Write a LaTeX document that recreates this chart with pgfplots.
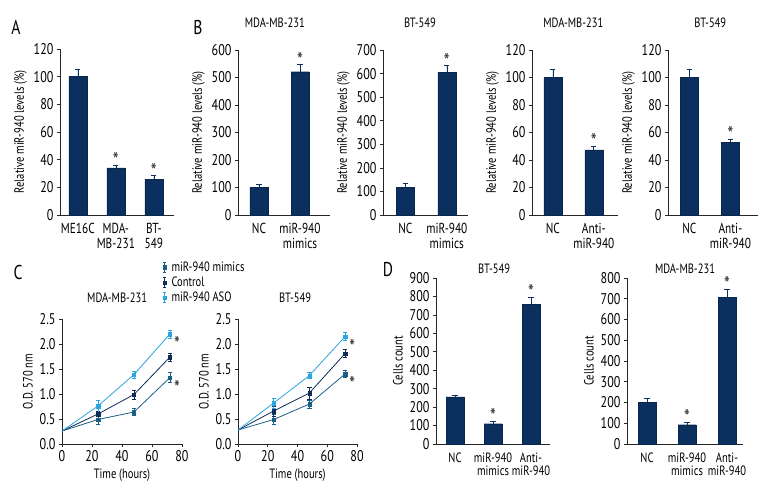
\documentclass[border=0pt]{standalone}
\usepackage{fontspec}
\setmainfont{PT Sans}[FakeStretch=0.78]
\usepackage{pgfplots}
\pgfplotsset{compat=1.18}
\definecolor{navy}{HTML}{0B2F5E}
\definecolor{ctrl}{HTML}{0F2B57}
\definecolor{mimc}{HTML}{1B5E86}
\definecolor{aso}{HTML}{2AA6DF}
\newcommand{\fs}[1]{\fontsize{#1bp}{#1bp}\selectfont}
\pgfplotsset{
  base/.style={scale only axis, anchor=south west, clip=false,
    axis lines*=left, axis line style={black!85, line width=0.6pt, -},
    tick align=outside, major tick length=3bp,
    tick style={black!85, line width=0.6pt},
    ticklabel style={font=\fs{15.5}},
    /pgf/number format/assume math mode=true,
    label style={font=\fs{13.5}},
    title style={font=\fs{13.5}}},
  barax/.style={base, ymin=0, xtick={0,1,2}, xtick style={draw=none},
    xticklabel style={align=center, font=\fs{14.5}, text depth=0pt, yshift=-2bp}},
  barplot/.style={ybar, bar shift=0pt, bar width=18bp, fill=navy, draw=navy!80!black, line width=0.4pt,
    error bars/.cd, y dir=plus, y explicit,
    error bar style={navy, line width=0.7pt},
    error mark options={rotate=90, mark size=2.6bp, navy, line width=0.7pt}, /pgfplots/.cd},
  star/.style={draw=none, mark=none, nodes near coords, point meta=explicit symbolic,
    every node near coord/.append style={font=\fs{21}, anchor=south, inner sep=0pt, yshift=-3bp, text=black!85}},
  lineax/.style={base, xmin=0, xmax=80, ymin=0, ymax=2.5, width=120bp, height=125bp,
    xtick={0,20,40,60,80}, ytick={0,0.5,1,1.5,2,2.5},
    yticklabel style={/pgf/number format/fixed, /pgf/number format/fixed zerofill, /pgf/number format/precision=1},
    xlabel={Time (hours)}, ylabel={O.D. 570 nm}},
  ln/.style={#1, line width=0.8pt, mark=none, forget plot},
  pts/.style={#1, only marks, mark=square*, mark size=1.7bp,
    error bars/.cd, y dir=both, y explicit,
    error bar style={#1, line width=0.7pt},
    error mark options={rotate=90, mark size=2.2bp, #1, line width=0.7pt}, /pgfplots/.cd},
  errleg/.style={legend image code/.code={
    \draw[#1, line width=0.7pt] (0.1cm,-0.17cm)--(0.1cm,0.17cm);
    \draw[#1, line width=0.7pt] (0.05cm,0.17cm)--(0.15cm,0.17cm) (0.05cm,-0.17cm)--(0.15cm,-0.17cm);
    \fill[#1] (0.045cm,-0.06cm) rectangle (0.155cm,0.06cm);}},
}
\begin{document}
\begin{tikzpicture}
\useasboundingbox (0,0) rectangle (768bp,-504bp);
% panel letters
\node[font=\fs{20}] at (16bp,-27bp) {A};
\node[font=\fs{20}] at (198bp,-27bp) {B};
\node[font=\fs{20}] at (18bp,-272bp) {C};
\node[font=\fs{20}] at (388bp,-270bp) {D};

% ---- A
\begin{axis}[barax, at={(60bp,-215bp)}, width=114bp, height=166bp,
  xmin=-0.47, xmax=2.53, ymax=120, ytick={0,20,...,120},
  xticklabels={ME16C, MDA-\\MB-231, BT-\\549},
  ylabel={Relative miR-940 levels (\%)}]
\addplot[barplot] coordinates {(0,100) +- (0,5.3) (1,34) +- (0,2) (2,26) +- (0,2.4)};
\addplot[star] coordinates {(1,36.2) [*] (2,28.6) [*]};
\end{axis}

% ---- B1
\begin{axis}[barax, at={(238bp,-215bp)}, width=92bp, height=165bp,
  xmin=-0.51, xmax=1.73, ymax=600, ytick={0,100,...,600},
  xticklabels={NC, miR-940\\mimics},
  ylabel={Relative miR-940 levels (\%)},
  title={MDA-MB-231}, title style={at={(0.4,1)}, anchor=center, yshift=21bp}]
\addplot[barplot] coordinates {(0,100) +- (0,13) (1,521) +- (0,27)};
\addplot[star] coordinates {(1,548) [*]};
\end{axis}

% ---- B2
\begin{axis}[barax, at={(383bp,-215bp)}, width=85bp, height=165bp,
  xmin=-0.54, xmax=1.51, ymax=700, ytick={0,100,...,700},
  xticklabels={NC, miR-940\\mimics},
  ylabel={Relative miR-940 levels (\%)},
  title={BT-549}, title style={at={(0.435,1)}, anchor=center, yshift=21bp}]
\addplot[barplot] coordinates {(0,116) +- (0,17) (1,605) +- (0,30)};
\addplot[star] coordinates {(1,635) [*]};
\end{axis}

% ---- B3
\begin{axis}[barax, at={(532bp,-215bp)}, width=86bp, height=165bp,
  xmin=-0.51, xmax=1.59, ymax=120, ytick={0,20,...,120},
  xticklabels={NC, Anti-\\miR-940},
  ylabel={Relative miR-940 levels (\%)},
  title={MDA-MB-231}, title style={at={(0.48,1)}, anchor=center, yshift=21bp}]
\addplot[barplot] coordinates {(0,100) +- (0,6) (1,47.3) +- (0,2.9)};
\addplot[star] coordinates {(1,50.5) [*]};
\end{axis}

% ---- B4
\begin{axis}[barax, at={(668bp,-215bp)}, width=90bp, height=165bp,
  xmin=-0.52, xmax=1.67, ymax=120, ytick={0,20,...,120},
  xticklabels={NC, Anti-\\miR-940},
  ylabel={Relative miR-940 levels (\%)},
  title={BT-549}, title style={at={(0.47,1)}, anchor=center, yshift=21bp}]
\addplot[barplot] coordinates {(0,100) +- (0,6) (1,52.6) +- (0,2.4)};
\addplot[star] coordinates {(1,55.3) [*]};
\end{axis}

% ---- C1
\begin{axis}[lineax, at={(62bp,-444bp)},
  title={MDA-MB-231}, title style={at={(0.46,1)}, anchor=center, yshift=15bp},
  legend style={at={(0.84,1.475)}, anchor=north west, draw=none, fill=none,
    font=\fs{13.5}, inner sep=0pt, row sep=0bp,
    /tikz/every odd column/.append style={column sep=3bp}},
  legend cell align=left]
\addplot[ln=mimc] coordinates {(0,0.26) (24,0.49) (48,0.64) (72,1.33)};
\addplot[ln=ctrl] coordinates {(0,0.26) (24,0.60) (48,0.99) (72,1.74)};
\addplot[ln=aso] coordinates {(0,0.26) (24,0.76) (48,1.39) (72,2.20)};
\addplot[errleg=mimc, pts=mimc] coordinates {(24,0.49) +- (0,0.09) (48,0.64) +- (0,0.07) (72,1.33) +- (0,0.10)};
\addplot[errleg=ctrl, pts=ctrl] coordinates {(24,0.60) +- (0,0.05) (48,0.99) +- (0,0.09) (72,1.74) +- (0,0.08)};
\addplot[errleg=aso, pts=aso] coordinates {(24,0.76) +- (0,0.12) (48,1.39) +- (0,0.07) (72,2.20) +- (0,0.08)};
\legend{miR-940 mimics, Control, miR-940 ASO}
\addplot[star, every node near coord/.append style={anchor=west, xshift=4bp, yshift=-7bp}] coordinates {(72,2.20) [*] (72,1.33) [*]};
\end{axis}

% ---- C2
\begin{axis}[lineax, at={(238bp,-444bp)}, width=119bp,
  title={BT-549}, title style={at={(0.48,1)}, anchor=center, yshift=15bp}]
\addplot[ln=mimc] coordinates {(0,0.28) (24,0.49) (48,0.80) (72,1.40)};
\addplot[ln=ctrl] coordinates {(0,0.28) (24,0.66) (48,1.02) (72,1.81)};
\addplot[ln=aso] coordinates {(0,0.28) (24,0.82) (48,1.37) (72,2.15)};
\addplot[pts=mimc] coordinates {(24,0.49) +- (0,0.10) (48,0.80) +- (0,0.08) (72,1.40) +- (0,0.07)};
\addplot[pts=ctrl] coordinates {(24,0.66) +- (0,0.10) (48,1.02) +- (0,0.12) (72,1.81) +- (0,0.08)};
\addplot[pts=aso] coordinates {(24,0.82) +- (0,0.10) (48,1.37) +- (0,0.06) (72,2.15) +- (0,0.08)};
\addplot[star, every node near coord/.append style={anchor=west, xshift=4bp, yshift=-7bp}] coordinates {(72,2.15) [*] (72,1.40) [*]};
\end{axis}

% ---- D1
\begin{axis}[barax, at={(436bp,-444bp)}, width=114bp, height=166bp,
  xmin=-0.5, xmax=2.5, ymax=900, ytick={0,100,...,900},
  xticklabels={NC, miR-940\\mimics, Anti-\\miR-940},
  xticklabel style={font=\fs{13.5}},
  ylabel={Cells count},
  title={BT-549}, title style={at={(0.51,1)}, anchor=center, yshift=3bp}]
\addplot[barplot] coordinates {(0,255) +- (0,11) (1,110) +- (0,13) (2,759) +- (0,36)};
\addplot[star] coordinates {(1,126) [*] (2,798) [*]};
\end{axis}

% ---- D2
\begin{axis}[barax, at={(627bp,-444bp)}, width=116bp, height=166bp,
  xmin=-0.5, xmax=2.4, ymax=800, ytick={0,100,...,800},
  xticklabels={NC, miR-940\\mimics, Anti-\\miR-940},
  xticklabel style={font=\fs{13.5}},
  ylabel={Cells count},
  title={MDA-MB-231}, title style={at={(0.5,1)}, anchor=center, yshift=3bp}]
\addplot[barplot] coordinates {(0,202) +- (0,19) (1,93) +- (0,10) (2,707) +- (0,37)};
\addplot[star] coordinates {(1,106) [*] (2,747) [*]};
\end{axis}
\end{tikzpicture}
\end{document}
